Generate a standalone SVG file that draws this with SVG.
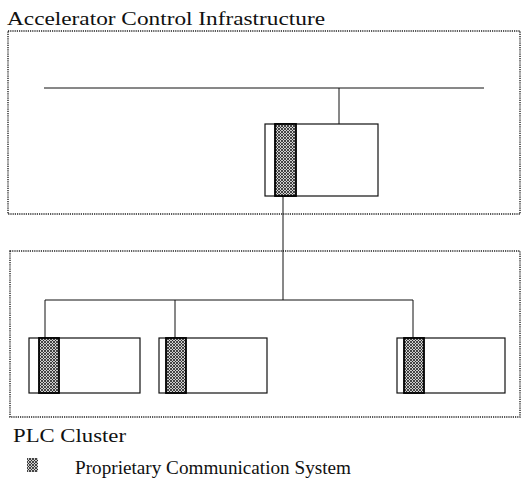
<svg xmlns="http://www.w3.org/2000/svg" width="522" height="483" viewBox="0 0 522 483">
<style>
.txt{font-family:"Liberation Serif","Times New Roman",serif;fill:#111;}
.frame{fill:none;stroke:#222;stroke-width:1.4;stroke-dasharray:1.2 1;}
.ln{fill:none;stroke:#111;stroke-width:1;}
.box{fill:#fff;stroke:#111;stroke-width:1.2;}
.comm{fill:url(#hatch);stroke:#000;stroke-width:1.8;}
</style>
<defs>
<pattern id="hatch" width="3" height="3" patternUnits="userSpaceOnUse">
<rect width="3" height="3" fill="#cfcfcf"/>
<path d="M0,3 L3,0 M0,0 L3,3" stroke="#222" stroke-width="0.8"/>
</pattern>
</defs>
<rect width="522" height="483" fill="#fff"/>
<g id="aci">
<rect class="frame" x="8" y="31" width="512" height="183"/>
<text class="txt" x="7" y="25" font-size="19" textLength="318" lengthAdjust="spacingAndGlyphs">Accelerator Control Infrastructure</text>
</g>
<g id="plc-cluster">
<rect class="frame" x="10" y="251" width="510" height="166"/>
<text class="txt" x="13" y="442" font-size="18" textLength="113" lengthAdjust="spacingAndGlyphs">PLC Cluster</text>
</g>
<g id="connectors">
<line class="ln" x1="44" y1="88" x2="484" y2="88"/>
<line class="ln" x1="339" y1="88" x2="339" y2="124"/>
<line class="ln" x1="283" y1="196" x2="283" y2="300"/>
<line class="ln" x1="45" y1="300" x2="413" y2="300"/>
<line class="ln" x1="45" y1="300" x2="45" y2="338"/>
<line class="ln" x1="175" y1="300" x2="175" y2="338"/>
<line class="ln" x1="413" y1="300" x2="413" y2="338"/>
</g>
<g id="gateway">
<rect class="box" x="265" y="124" width="113" height="72"/>
<rect class="comm" x="275" y="124" width="21" height="72"/>
</g>
<g id="plc1">
<rect class="box" x="29" y="338" width="111" height="55"/>
<rect class="comm" x="39" y="338" width="20" height="55"/>
</g>
<g id="plc2">
<rect class="box" x="159" y="338" width="108" height="55"/>
<rect class="comm" x="166" y="338" width="20" height="55"/>
</g>
<g id="plc3">
<rect class="box" x="397" y="338" width="108" height="55"/>
<rect class="comm" x="404" y="338" width="20" height="55"/>
</g>
<g id="legend">
<rect x="27" y="458" width="11" height="14" fill="url(#hatch)"/>
<text class="txt" x="75" y="474" font-size="18" textLength="276" lengthAdjust="spacingAndGlyphs">Proprietary Communication System</text>
</g>
</svg>
